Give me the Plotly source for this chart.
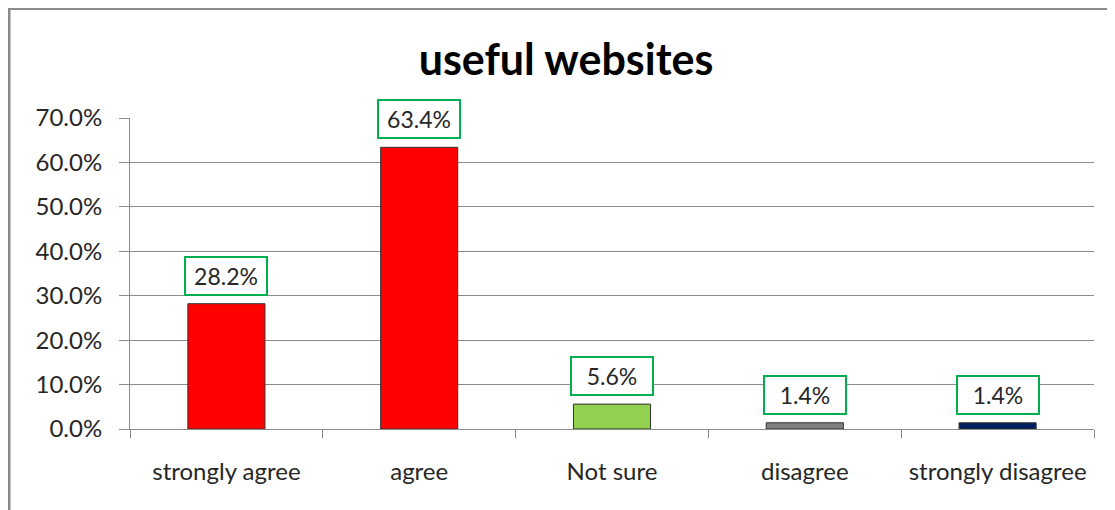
import plotly.graph_objects as go

categories = ["strongly agree", "agree", "Not sure", "disagree", "strongly disagree"]
values = [0.282, 0.634, 0.056, 0.014, 0.014]
bar_colors = ["#FF0000", "#FF0000", "#92D050", "#808080", "#002060"]
label_texts = ["28.2%", "63.4%", "5.6%", "1.4%", "1.4%"]
y_ticks = [0, 0.1, 0.2, 0.3, 0.4, 0.5, 0.6, 0.7]

FONT = "Lato, 'Open Sans', sans-serif"
GRID = "#8C8C8C"

# page body has an 8px margin, so the figure is sized/positioned to compensate
W, H = 1107, 502
L, T = 122, 110
PW, PH = 964, 311

fig = go.Figure()
fig.add_trace(go.Bar(
    x=categories, y=values,
    marker=dict(color=bar_colors, line=dict(color="#333333", width=1)),
    width=0.4,
    hoverinfo="skip",
))

annotations = []
for c, v, t in zip(categories, values, label_texts):
    annotations.append(dict(
        x=c, y=v, xref="x", yref="y", text=t, showarrow=False,
        yanchor="bottom", yshift=8,
        font=dict(family=FONT, size=23, color="#262626"),
        bgcolor="white", bordercolor="#00B050", borderwidth=2,
        borderpad=5, width=70, height=26,
    ))

fig.update_layout(
    width=W, height=H,
    margin=dict(l=L, r=W - L - PW, t=T, b=H - T - PH),
    paper_bgcolor="white", plot_bgcolor="white",
    showlegend=False,
    bargap=0.6,
    title=dict(text="<b>useful websites</b>", x=558 / W, xanchor="center",
               y=1 - 52 / H, yanchor="middle", yref="container",
               font=dict(family=FONT, size=43, color="#000000")),
    annotations=annotations,
    shapes=[dict(type="rect", xref="paper", yref="paper",
                 x0=(1 - L) / PW, x1=(W + 20 - L) / PW,
                 y0=(T + PH - (H + 20)) / PH, y1=(T + PH - 0.5) / PH,
                 line=dict(color="#8A8A8A", width=3), fillcolor="rgba(0,0,0,0)",
                 layer="below")],
)

fig.update_xaxes(
    type="category", tickson="boundaries", ticks="outside", ticklen=8,
    tickcolor=GRID, showline=True, linecolor=GRID, linewidth=1,
    showgrid=False, ticklabelstandoff=21,
    tickfont=dict(family=FONT, size=24, color="#262626"),
)
fig.update_yaxes(
    range=[0, 0.7], tickvals=y_ticks, tickformat=".1%",
    ticks="outside", ticklen=10, tickcolor=GRID,
    showline=True, linecolor=GRID, linewidth=1,
    showgrid=True, gridcolor=GRID, gridwidth=1, zeroline=False,
    ticklabelstandoff=12,
    tickfont=dict(family=FONT, size=24, color="#262626"),
)

fig.write_html("out.html")
